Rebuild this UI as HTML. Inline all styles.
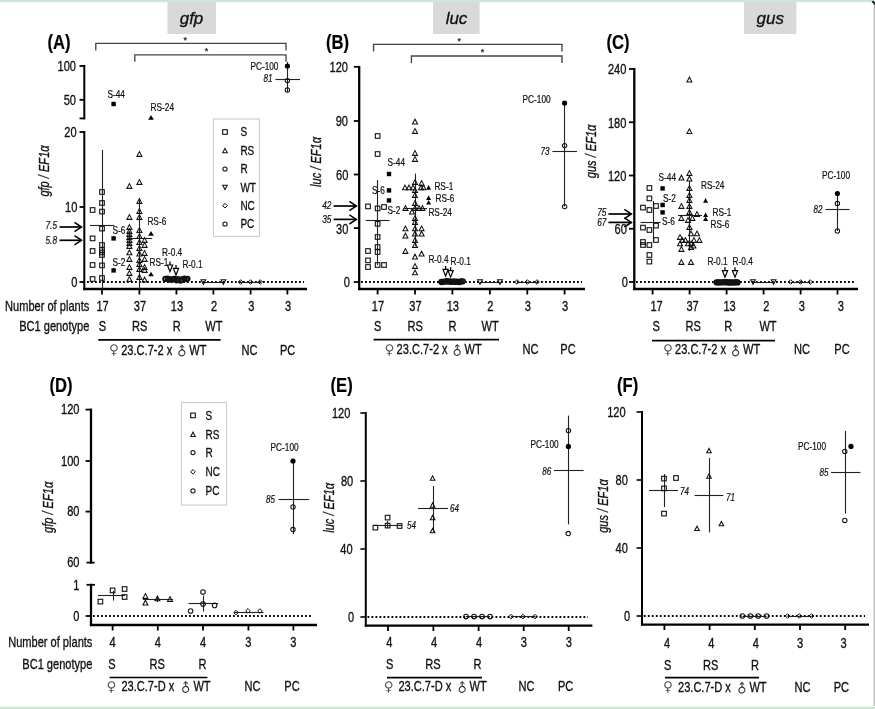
<!DOCTYPE html>
<html lang="en">
<head>
<meta charset="utf-8">
<title>Figure: gfp, luc and gus expression in BC1 plants</title>
<style>
html,body{margin:0;padding:0;background:#fff;}
body{width:875px;height:709px;overflow:hidden;}
svg{display:block;font-family:"Liberation Sans", "DejaVu Sans", sans-serif;}
</style>
</head>
<body>
<svg width="875" height="709" viewBox="0 0 875 709">
<rect x="0" y="0" width="875" height="709" fill="#fff"/>
<rect x="0" y="0" width="875" height="1.9" fill="#cbe5d2"/>
<rect x="0" y="1.9" width="875" height="1.2" fill="#f3f9f3"/>
<rect x="0" y="706.6" width="875" height="2.4" fill="#cbe5d2"/>
<rect x="0" y="704.8" width="875" height="1.8" fill="#f8fbf5"/>
<rect x="873.7" y="5" width="1.1" height="701" fill="#aaaaaa"/>
<polygon points="871.6,1.4 874.6,5.4 875,2.6 873.2,0.8" fill="#111"/>
<rect x="167.5" y="2" width="48.5" height="32" fill="#d9d9d9"/>
<text transform="translate(191.50,24.00)" font-size="17" text-anchor="middle" fill="#111" stroke="#111" stroke-width="0.32" font-style="italic">gfp</text>
<rect x="433" y="2" width="46.6" height="32" fill="#d9d9d9"/>
<text transform="translate(456.50,24.00)" font-size="17" text-anchor="middle" fill="#111" stroke="#111" stroke-width="0.32" font-style="italic">luc</text>
<rect x="744" y="2" width="52.4" height="32" fill="#d9d9d9"/>
<text transform="translate(770.30,24.00)" font-size="17" text-anchor="middle" fill="#111" stroke="#111" stroke-width="0.32" font-style="italic">gus</text>
<text transform="translate(47.50,49.00) scale(0.83,1)" font-size="20" text-anchor="start" fill="#000" stroke="#000" stroke-width="0.2" font-weight="bold">(A)</text>
<polyline points="95.80,50.40 95.80,43.40 286.00,43.40 286.00,50.40" fill="none" stroke="#444" stroke-width="1.35"/>
<polyline points="134.80,61.80 134.80,54.80 286.00,54.80 286.00,61.80" fill="none" stroke="#444" stroke-width="1.35"/>
<text transform="translate(185.30,42.50)" font-size="9" text-anchor="middle" fill="#222" stroke="#222" stroke-width="0.22">*</text>
<text transform="translate(206.50,54.00)" font-size="9" text-anchor="middle" fill="#222" stroke="#222" stroke-width="0.22">*</text>
<line x1="84.30" y1="65.00" x2="84.30" y2="119.40" stroke="#000" stroke-width="2.0"/>
<line x1="84.30" y1="131.00" x2="84.30" y2="290.10" stroke="#000" stroke-width="2.0"/>
<line x1="79.50" y1="66.00" x2="84.30" y2="66.00" stroke="#000" stroke-width="1.8"/>
<line x1="79.50" y1="99.80" x2="84.30" y2="99.80" stroke="#000" stroke-width="1.8"/>
<line x1="79.50" y1="118.40" x2="84.30" y2="118.40" stroke="#000" stroke-width="1.8"/>
<line x1="79.50" y1="132.00" x2="84.30" y2="132.00" stroke="#000" stroke-width="1.8"/>
<line x1="79.50" y1="207.00" x2="84.30" y2="207.00" stroke="#000" stroke-width="1.8"/>
<line x1="79.50" y1="282.00" x2="84.30" y2="282.00" stroke="#000" stroke-width="1.8"/>
<line x1="83.20" y1="289.00" x2="307.00" y2="289.00" stroke="#000" stroke-width="2.3"/>
<line x1="102.00" y1="289.00" x2="102.00" y2="294.50" stroke="#000" stroke-width="1.8"/>
<line x1="139.40" y1="289.00" x2="139.40" y2="294.50" stroke="#000" stroke-width="1.8"/>
<line x1="176.40" y1="289.00" x2="176.40" y2="294.50" stroke="#000" stroke-width="1.8"/>
<line x1="213.40" y1="289.00" x2="213.40" y2="294.50" stroke="#000" stroke-width="1.8"/>
<line x1="250.60" y1="289.00" x2="250.60" y2="294.50" stroke="#000" stroke-width="1.8"/>
<line x1="287.40" y1="289.00" x2="287.40" y2="294.50" stroke="#000" stroke-width="1.8"/>
<line x1="87.00" y1="282.00" x2="304.00" y2="282.00" stroke="#000" stroke-width="1.8" stroke-dasharray="1.8 2.2"/>
<text transform="translate(76.00,71.40) scale(0.78,1)" font-size="14.2" text-anchor="end" fill="#111" stroke="#111" stroke-width="0.32">100</text>
<text transform="translate(76.00,105.20) scale(0.78,1)" font-size="14.2" text-anchor="end" fill="#111" stroke="#111" stroke-width="0.32">50</text>
<text transform="translate(76.60,137.40) scale(0.78,1)" font-size="14.2" text-anchor="end" fill="#111" stroke="#111" stroke-width="0.32">20</text>
<text transform="translate(77.40,212.40) scale(0.78,1)" font-size="14.2" text-anchor="end" fill="#111" stroke="#111" stroke-width="0.32">10</text>
<text transform="translate(77.40,287.40) scale(0.78,1)" font-size="14.2" text-anchor="end" fill="#111" stroke="#111" stroke-width="0.32">0</text>
<text transform="translate(48.70,171.00) rotate(-90) scale(0.78,1)" font-size="14.2" text-anchor="middle" fill="#111" stroke="#111" stroke-width="0.32" font-style="italic">gfp / EF1α</text>
<text transform="translate(45.50,229.00) scale(0.78,1)" font-size="10.6" text-anchor="start" fill="#111" stroke="#111" stroke-width="0.22" font-style="italic">7.5</text>
<line x1="59.50" y1="227.00" x2="81.50" y2="227.00" stroke="#000" stroke-width="1.7"/>
<polyline points="74.50,222.40 81.50,227.00 74.50,231.60" fill="none" stroke="#000" stroke-width="1.5"/>
<text transform="translate(45.50,243.50) scale(0.78,1)" font-size="10.6" text-anchor="start" fill="#111" stroke="#111" stroke-width="0.22" font-style="italic">5.8</text>
<line x1="59.50" y1="240.30" x2="81.50" y2="240.30" stroke="#000" stroke-width="1.7"/>
<polyline points="74.50,235.70 81.50,240.30 74.50,244.90" fill="none" stroke="#000" stroke-width="1.5"/>
<line x1="102.50" y1="150.00" x2="102.50" y2="289.00" stroke="#222" stroke-width="1.1"/>
<line x1="90.00" y1="225.50" x2="114.40" y2="225.50" stroke="#222" stroke-width="1.1"/>
<rect x="90.30" y="207.70" width="4.6" height="4.6" fill="none" stroke="#111" stroke-width="1.1"/>
<rect x="90.30" y="236.10" width="4.6" height="4.6" fill="none" stroke="#111" stroke-width="1.1"/>
<rect x="90.30" y="248.70" width="4.6" height="4.6" fill="none" stroke="#111" stroke-width="1.1"/>
<rect x="90.30" y="262.70" width="4.6" height="4.6" fill="none" stroke="#111" stroke-width="1.1"/>
<rect x="90.30" y="276.70" width="4.6" height="4.6" fill="none" stroke="#111" stroke-width="1.1"/>
<rect x="99.70" y="189.70" width="4.6" height="4.6" fill="none" stroke="#111" stroke-width="1.1"/>
<rect x="99.70" y="200.70" width="4.6" height="4.6" fill="none" stroke="#111" stroke-width="1.1"/>
<rect x="99.70" y="209.30" width="4.6" height="4.6" fill="none" stroke="#111" stroke-width="1.1"/>
<rect x="99.70" y="226.30" width="4.6" height="4.6" fill="none" stroke="#111" stroke-width="1.1"/>
<rect x="99.70" y="242.70" width="4.6" height="4.6" fill="none" stroke="#111" stroke-width="1.1"/>
<rect x="99.70" y="247.70" width="4.6" height="4.6" fill="none" stroke="#111" stroke-width="1.1"/>
<rect x="99.70" y="250.10" width="4.6" height="4.6" fill="none" stroke="#111" stroke-width="1.1"/>
<rect x="99.70" y="252.70" width="4.6" height="4.6" fill="none" stroke="#111" stroke-width="1.1"/>
<rect x="99.70" y="263.10" width="4.6" height="4.6" fill="none" stroke="#111" stroke-width="1.1"/>
<rect x="99.70" y="275.70" width="4.6" height="4.6" fill="none" stroke="#111" stroke-width="1.1"/>
<rect x="111.40" y="101.80" width="4.4" height="4.4" fill="#000"/>
<rect x="111.40" y="236.20" width="4.4" height="4.4" fill="#000"/>
<rect x="111.40" y="268.20" width="4.4" height="4.4" fill="#000"/>
<text transform="translate(107.50,98.00) scale(0.78,1)" font-size="10.6" text-anchor="start" fill="#111" stroke="#111" stroke-width="0.22">S-44</text>
<text transform="translate(112.40,233.50) scale(0.78,1)" font-size="10.6" text-anchor="start" fill="#111" stroke="#111" stroke-width="0.22">S-6</text>
<text transform="translate(112.40,266.10) scale(0.78,1)" font-size="10.6" text-anchor="start" fill="#111" stroke="#111" stroke-width="0.22">S-2</text>
<line x1="139.50" y1="198.00" x2="139.50" y2="289.00" stroke="#222" stroke-width="1.1"/>
<line x1="127.00" y1="238.50" x2="152.00" y2="238.50" stroke="#222" stroke-width="1.1"/>
<polygon points="126.90,188.38 131.90,188.38 129.40,183.62" fill="none" stroke="#111" stroke-width="1.05"/>
<polygon points="126.90,219.38 131.90,219.38 129.40,214.62" fill="none" stroke="#111" stroke-width="1.05"/>
<polygon points="126.90,229.38 131.90,229.38 129.40,224.62" fill="none" stroke="#111" stroke-width="1.05"/>
<polygon points="126.90,233.38 131.90,233.38 129.40,228.62" fill="none" stroke="#111" stroke-width="1.05"/>
<polygon points="126.90,236.38 131.90,236.38 129.40,231.62" fill="none" stroke="#111" stroke-width="1.05"/>
<polygon points="126.90,239.38 131.90,239.38 129.40,234.62" fill="none" stroke="#111" stroke-width="1.05"/>
<polygon points="126.90,242.38 131.90,242.38 129.40,237.62" fill="none" stroke="#111" stroke-width="1.05"/>
<polygon points="126.90,245.38 131.90,245.38 129.40,240.62" fill="none" stroke="#111" stroke-width="1.05"/>
<polygon points="126.90,248.38 131.90,248.38 129.40,243.62" fill="none" stroke="#111" stroke-width="1.05"/>
<polygon points="126.90,254.78 131.90,254.78 129.40,250.03" fill="none" stroke="#111" stroke-width="1.05"/>
<polygon points="126.90,261.38 131.90,261.38 129.40,256.62" fill="none" stroke="#111" stroke-width="1.05"/>
<polygon points="126.90,269.38 131.90,269.38 129.40,264.62" fill="none" stroke="#111" stroke-width="1.05"/>
<polygon points="126.90,275.38 131.90,275.38 129.40,270.62" fill="none" stroke="#111" stroke-width="1.05"/>
<polygon points="126.90,281.38 131.90,281.38 129.40,276.62" fill="none" stroke="#111" stroke-width="1.05"/>
<polygon points="136.90,156.38 141.90,156.38 139.40,151.62" fill="none" stroke="#111" stroke-width="1.05"/>
<polygon points="136.90,184.38 141.90,184.38 139.40,179.62" fill="none" stroke="#111" stroke-width="1.05"/>
<polygon points="136.90,203.38 141.90,203.38 139.40,198.62" fill="none" stroke="#111" stroke-width="1.05"/>
<polygon points="136.90,213.38 141.90,213.38 139.40,208.62" fill="none" stroke="#111" stroke-width="1.05"/>
<polygon points="136.90,219.38 141.90,219.38 139.40,214.62" fill="none" stroke="#111" stroke-width="1.05"/>
<polygon points="136.90,232.38 141.90,232.38 139.40,227.62" fill="none" stroke="#111" stroke-width="1.05"/>
<polygon points="136.90,238.38 141.90,238.38 139.40,233.62" fill="none" stroke="#111" stroke-width="1.05"/>
<polygon points="136.90,244.38 141.90,244.38 139.40,239.62" fill="none" stroke="#111" stroke-width="1.05"/>
<polygon points="136.90,250.38 141.90,250.38 139.40,245.62" fill="none" stroke="#111" stroke-width="1.05"/>
<polygon points="136.90,255.97 141.90,255.97 139.40,251.22" fill="none" stroke="#111" stroke-width="1.05"/>
<polygon points="136.90,262.38 141.90,262.38 139.40,257.62" fill="none" stroke="#111" stroke-width="1.05"/>
<polygon points="136.90,266.38 141.90,266.38 139.40,261.62" fill="none" stroke="#111" stroke-width="1.05"/>
<polygon points="136.90,271.38 141.90,271.38 139.40,266.62" fill="none" stroke="#111" stroke-width="1.05"/>
<polygon points="136.90,279.38 141.90,279.38 139.40,274.62" fill="none" stroke="#111" stroke-width="1.05"/>
<polygon points="142.10,242.38 147.10,242.38 144.60,237.62" fill="none" stroke="#111" stroke-width="1.05"/>
<polygon points="142.10,247.38 147.10,247.38 144.60,242.62" fill="none" stroke="#111" stroke-width="1.05"/>
<polygon points="142.10,255.38 147.10,255.38 144.60,250.62" fill="none" stroke="#111" stroke-width="1.05"/>
<polygon points="142.10,261.38 147.10,261.38 144.60,256.62" fill="none" stroke="#111" stroke-width="1.05"/>
<polygon points="142.10,269.38 147.10,269.38 144.60,264.62" fill="none" stroke="#111" stroke-width="1.05"/>
<polygon points="142.10,272.38 147.10,272.38 144.60,267.62" fill="none" stroke="#111" stroke-width="1.05"/>
<polygon points="142.10,281.98 147.10,281.98 144.60,277.23" fill="none" stroke="#111" stroke-width="1.05"/>
<polygon points="148.20,119.70 153.80,119.70 151.00,115.10" fill="#000"/>
<polygon points="148.20,235.70 153.80,235.70 151.00,231.10" fill="#000"/>
<polygon points="148.20,276.30 153.80,276.30 151.00,271.70" fill="#000"/>
<text transform="translate(150.60,110.90) scale(0.78,1)" font-size="10.6" text-anchor="start" fill="#111" stroke="#111" stroke-width="0.22">RS-24</text>
<text transform="translate(147.40,224.90) scale(0.78,1)" font-size="10.6" text-anchor="start" fill="#111" stroke="#111" stroke-width="0.22">RS-6</text>
<text transform="translate(149.60,266.10) scale(0.78,1)" font-size="10.6" text-anchor="start" fill="#111" stroke="#111" stroke-width="0.22">RS-1</text>
<circle cx="165.36" cy="278.90" r="2.3" fill="none" stroke="#111" stroke-width="1.7"/>
<circle cx="167.47" cy="278.74" r="2.3" fill="none" stroke="#111" stroke-width="1.7"/>
<circle cx="169.23" cy="279.33" r="2.3" fill="none" stroke="#111" stroke-width="1.7"/>
<circle cx="170.70" cy="279.61" r="2.3" fill="none" stroke="#111" stroke-width="1.7"/>
<circle cx="172.53" cy="279.47" r="2.3" fill="none" stroke="#111" stroke-width="1.7"/>
<circle cx="174.41" cy="278.78" r="2.3" fill="none" stroke="#111" stroke-width="1.7"/>
<circle cx="176.54" cy="280.25" r="2.3" fill="none" stroke="#111" stroke-width="1.7"/>
<circle cx="178.15" cy="279.05" r="2.3" fill="none" stroke="#111" stroke-width="1.7"/>
<circle cx="180.40" cy="280.50" r="2.3" fill="none" stroke="#111" stroke-width="1.7"/>
<circle cx="182.21" cy="279.39" r="2.3" fill="none" stroke="#111" stroke-width="1.7"/>
<circle cx="184.38" cy="278.69" r="2.3" fill="none" stroke="#111" stroke-width="1.7"/>
<circle cx="186.14" cy="279.18" r="2.3" fill="none" stroke="#111" stroke-width="1.7"/>
<circle cx="187.42" cy="278.84" r="2.3" fill="none" stroke="#111" stroke-width="1.7"/>
<line x1="170.00" y1="261.60" x2="170.00" y2="265.20" stroke="#000" stroke-width="1.3"/>
<polygon points="167.40,265.00 172.60,265.00 170.00,271.60" fill="#fff" stroke="#000" stroke-width="1.2"/>
<line x1="176.00" y1="265.00" x2="176.00" y2="268.60" stroke="#000" stroke-width="1.3"/>
<polygon points="173.40,268.40 178.60,268.40 176.00,275.00" fill="#fff" stroke="#000" stroke-width="1.2"/>
<text transform="translate(162.00,256.10) scale(0.78,1)" font-size="10.6" text-anchor="start" fill="#111" stroke="#111" stroke-width="0.22">R-0.4</text>
<text transform="translate(182.40,267.50) scale(0.78,1)" font-size="10.6" text-anchor="start" fill="#111" stroke="#111" stroke-width="0.22">R-0.1</text>
<line x1="203.40" y1="282.50" x2="223.40" y2="282.50" stroke="#222" stroke-width="1.1"/>
<polygon points="201.00,279.72 205.80,279.72 203.40,284.28" fill="none" stroke="#111" stroke-width="1.05"/>
<polygon points="221.00,279.72 225.80,279.72 223.40,284.28" fill="none" stroke="#111" stroke-width="1.05"/>
<line x1="240.60" y1="282.50" x2="260.40" y2="282.50" stroke="#222" stroke-width="1.1"/>
<polygon points="238.30,282.00 240.60,279.70 242.90,282.00 240.60,284.30" fill="none" stroke="#111" stroke-width="1.0"/>
<polygon points="248.30,282.00 250.60,279.70 252.90,282.00 250.60,284.30" fill="none" stroke="#111" stroke-width="1.0"/>
<polygon points="257.90,282.00 260.20,279.70 262.50,282.00 260.20,284.30" fill="none" stroke="#111" stroke-width="1.0"/>
<line x1="287.50" y1="62.00" x2="287.50" y2="92.00" stroke="#222" stroke-width="1.1"/>
<line x1="275.50" y1="79.50" x2="300.00" y2="79.50" stroke="#222" stroke-width="1.1"/>
<circle cx="287.40" cy="66.00" r="2.6" fill="#000"/>
<circle cx="287.40" cy="80.60" r="2.2" fill="none" stroke="#111" stroke-width="1.05"/>
<circle cx="287.40" cy="90.00" r="2.2" fill="none" stroke="#111" stroke-width="1.05"/>
<text transform="translate(250.40,70.10) scale(0.78,1)" font-size="10.6" text-anchor="start" fill="#111" stroke="#111" stroke-width="0.22">PC-100</text>
<text transform="translate(263.50,82.30) scale(0.76,1)" font-size="10.6" text-anchor="start" fill="#111" stroke="#111" stroke-width="0.22" font-style="italic">81</text>
<rect x="213.4" y="119" width="46" height="117.4" fill="#fff" stroke="#c8c8c8" stroke-width="1"/>
<rect x="222.70" y="129.70" width="4.6" height="4.6" fill="none" stroke="#111" stroke-width="1.1"/>
<polygon points="222.70,152.69 227.30,152.69 225.00,148.31" fill="none" stroke="#111" stroke-width="1.05"/>
<circle cx="225.00" cy="169.00" r="2.1" fill="none" stroke="#111" stroke-width="1.05"/>
<polygon points="222.70,185.22 227.30,185.22 225.00,189.59" fill="none" stroke="#111" stroke-width="1.05"/>
<polygon points="222.70,205.70 225.00,203.40 227.30,205.70 225.00,208.00" fill="none" stroke="#111" stroke-width="1.0"/>
<circle cx="225.00" cy="224.00" r="2.1" fill="none" stroke="#111" stroke-width="1.05"/>
<text transform="translate(240.40,136.40) scale(0.78,1)" font-size="12.8" text-anchor="start" fill="#111" stroke="#111" stroke-width="0.32">S</text>
<text transform="translate(240.40,154.90) scale(0.78,1)" font-size="12.8" text-anchor="start" fill="#111" stroke="#111" stroke-width="0.32">RS</text>
<text transform="translate(240.40,173.40) scale(0.78,1)" font-size="12.8" text-anchor="start" fill="#111" stroke="#111" stroke-width="0.32">R</text>
<text transform="translate(240.40,191.80) scale(0.78,1)" font-size="12.8" text-anchor="start" fill="#111" stroke="#111" stroke-width="0.32">WT</text>
<text transform="translate(240.40,210.10) scale(0.78,1)" font-size="12.8" text-anchor="start" fill="#111" stroke="#111" stroke-width="0.32">NC</text>
<text transform="translate(240.40,228.40) scale(0.78,1)" font-size="12.8" text-anchor="start" fill="#111" stroke="#111" stroke-width="0.32">PC</text>
<text transform="translate(89.30,311.00) scale(0.78,1)" font-size="14.2" text-anchor="end" fill="#111" stroke="#111" stroke-width="0.32">Number of plants</text>
<text transform="translate(89.30,331.00) scale(0.78,1)" font-size="14.2" text-anchor="end" fill="#111" stroke="#111" stroke-width="0.32">BC1 genotype</text>
<text transform="translate(102.60,311.00) scale(0.78,1)" font-size="14.2" text-anchor="middle" fill="#111" stroke="#111" stroke-width="0.32">17</text>
<text transform="translate(140.00,311.00) scale(0.78,1)" font-size="14.2" text-anchor="middle" fill="#111" stroke="#111" stroke-width="0.32">37</text>
<text transform="translate(177.00,311.00) scale(0.78,1)" font-size="14.2" text-anchor="middle" fill="#111" stroke="#111" stroke-width="0.32">13</text>
<text transform="translate(214.00,311.00) scale(0.78,1)" font-size="14.2" text-anchor="middle" fill="#111" stroke="#111" stroke-width="0.32">2</text>
<text transform="translate(251.20,311.00) scale(0.78,1)" font-size="14.2" text-anchor="middle" fill="#111" stroke="#111" stroke-width="0.32">3</text>
<text transform="translate(288.00,311.00) scale(0.78,1)" font-size="14.2" text-anchor="middle" fill="#111" stroke="#111" stroke-width="0.32">3</text>
<text transform="translate(102.40,331.00) scale(0.78,1)" font-size="14.2" text-anchor="middle" fill="#111" stroke="#111" stroke-width="0.32">S</text>
<text transform="translate(139.80,331.00) scale(0.78,1)" font-size="14.2" text-anchor="middle" fill="#111" stroke="#111" stroke-width="0.32">RS</text>
<text transform="translate(176.80,331.00) scale(0.78,1)" font-size="14.2" text-anchor="middle" fill="#111" stroke="#111" stroke-width="0.32">R</text>
<text transform="translate(213.80,331.00) scale(0.78,1)" font-size="14.2" text-anchor="middle" fill="#111" stroke="#111" stroke-width="0.32">WT</text>
<line x1="98.30" y1="339.80" x2="220.60" y2="339.80" stroke="#000" stroke-width="1.7"/>
<text x="114.00" y="354.30" font-size="13.5" font-family="'DejaVu Sans', sans-serif" text-anchor="middle" fill="#555">♀</text>
<text transform="translate(121.20,354.50) scale(0.78,1)" font-size="14.2" text-anchor="start" fill="#111" stroke="#111" stroke-width="0.32">23.C.7-2 x</text>
<text transform="translate(185.00,354.56) rotate(-45)" font-size="12.8" font-family="'DejaVu Sans', sans-serif" text-anchor="middle" fill="#333">♂</text>
<text transform="translate(189.20,354.50) scale(0.78,1)" font-size="14.2" text-anchor="start" fill="#111" stroke="#111" stroke-width="0.32">WT</text>
<text transform="translate(249.60,354.50) scale(0.78,1)" font-size="14.2" text-anchor="middle" fill="#111" stroke="#111" stroke-width="0.32">NC</text>
<text transform="translate(287.60,354.50) scale(0.78,1)" font-size="14.2" text-anchor="middle" fill="#111" stroke="#111" stroke-width="0.32">PC</text>
<text transform="translate(326.00,49.00) scale(0.83,1)" font-size="20" text-anchor="start" fill="#000" stroke="#000" stroke-width="0.2" font-weight="bold">(B)</text>
<polyline points="373.60,51.40 373.60,44.40 562.00,44.40 562.00,51.40" fill="none" stroke="#444" stroke-width="1.35"/>
<polyline points="411.40,63.00 411.40,56.00 562.00,56.00 562.00,63.00" fill="none" stroke="#444" stroke-width="1.35"/>
<text transform="translate(459.20,43.50)" font-size="9" text-anchor="middle" fill="#222" stroke="#222" stroke-width="0.22">*</text>
<text transform="translate(482.40,55.00)" font-size="9" text-anchor="middle" fill="#222" stroke="#222" stroke-width="0.22">*</text>
<line x1="359.20" y1="66.10" x2="359.20" y2="290.10" stroke="#000" stroke-width="2.3"/>
<line x1="353.80" y1="66.80" x2="359.20" y2="66.80" stroke="#000" stroke-width="1.8"/>
<line x1="353.80" y1="121.00" x2="359.20" y2="121.00" stroke="#000" stroke-width="1.8"/>
<line x1="353.80" y1="174.50" x2="359.20" y2="174.50" stroke="#000" stroke-width="1.8"/>
<line x1="353.80" y1="228.10" x2="359.20" y2="228.10" stroke="#000" stroke-width="1.8"/>
<line x1="353.80" y1="282.00" x2="359.20" y2="282.00" stroke="#000" stroke-width="1.8"/>
<line x1="358.10" y1="289.00" x2="585.00" y2="289.00" stroke="#000" stroke-width="2.3"/>
<line x1="377.60" y1="289.00" x2="377.60" y2="294.50" stroke="#000" stroke-width="1.8"/>
<line x1="415.00" y1="289.00" x2="415.00" y2="294.50" stroke="#000" stroke-width="1.8"/>
<line x1="452.40" y1="289.00" x2="452.40" y2="294.50" stroke="#000" stroke-width="1.8"/>
<line x1="489.90" y1="289.00" x2="489.90" y2="294.50" stroke="#000" stroke-width="1.8"/>
<line x1="527.30" y1="289.00" x2="527.30" y2="294.50" stroke="#000" stroke-width="1.8"/>
<line x1="564.60" y1="289.00" x2="564.60" y2="294.50" stroke="#000" stroke-width="1.8"/>
<line x1="361.00" y1="282.00" x2="582.00" y2="282.00" stroke="#000" stroke-width="1.8" stroke-dasharray="1.8 2.2"/>
<text transform="translate(348.00,72.40) scale(0.78,1)" font-size="14.2" text-anchor="end" fill="#111" stroke="#111" stroke-width="0.32">120</text>
<text transform="translate(348.00,126.15) scale(0.78,1)" font-size="14.2" text-anchor="end" fill="#111" stroke="#111" stroke-width="0.32">90</text>
<text transform="translate(348.40,179.90) scale(0.78,1)" font-size="14.2" text-anchor="end" fill="#111" stroke="#111" stroke-width="0.32">60</text>
<text transform="translate(348.40,233.65) scale(0.78,1)" font-size="14.2" text-anchor="end" fill="#111" stroke="#111" stroke-width="0.32">30</text>
<text transform="translate(350.00,287.40) scale(0.78,1)" font-size="14.2" text-anchor="end" fill="#111" stroke="#111" stroke-width="0.32">0</text>
<text transform="translate(321.20,162.00) rotate(-90) scale(0.78,1)" font-size="14.2" text-anchor="middle" fill="#111" stroke="#111" stroke-width="0.32" font-style="italic">luc / EF1α</text>
<text transform="translate(322.20,209.30) scale(0.78,1)" font-size="10.6" text-anchor="start" fill="#111" stroke="#111" stroke-width="0.22" font-style="italic">42</text>
<line x1="333.60" y1="206.00" x2="356.40" y2="206.00" stroke="#000" stroke-width="1.7"/>
<polyline points="349.40,201.40 356.40,206.00 349.40,210.60" fill="none" stroke="#000" stroke-width="1.5"/>
<text transform="translate(322.20,222.80) scale(0.78,1)" font-size="10.6" text-anchor="start" fill="#111" stroke="#111" stroke-width="0.22" font-style="italic">35</text>
<line x1="333.60" y1="219.40" x2="356.40" y2="219.40" stroke="#000" stroke-width="1.7"/>
<polyline points="349.40,214.80 356.40,219.40 349.40,224.00" fill="none" stroke="#000" stroke-width="1.5"/>
<line x1="377.50" y1="180.00" x2="377.50" y2="265.00" stroke="#222" stroke-width="1.1"/>
<line x1="365.60" y1="220.50" x2="389.60" y2="220.50" stroke="#222" stroke-width="1.1"/>
<rect x="375.30" y="133.70" width="4.6" height="4.6" fill="none" stroke="#111" stroke-width="1.1"/>
<rect x="375.30" y="151.70" width="4.6" height="4.6" fill="none" stroke="#111" stroke-width="1.1"/>
<rect x="375.30" y="206.10" width="4.6" height="4.6" fill="none" stroke="#111" stroke-width="1.1"/>
<rect x="375.30" y="221.50" width="4.6" height="4.6" fill="none" stroke="#111" stroke-width="1.1"/>
<rect x="375.30" y="234.70" width="4.6" height="4.6" fill="none" stroke="#111" stroke-width="1.1"/>
<rect x="375.30" y="244.70" width="4.6" height="4.6" fill="none" stroke="#111" stroke-width="1.1"/>
<rect x="375.30" y="249.70" width="4.6" height="4.6" fill="none" stroke="#111" stroke-width="1.1"/>
<rect x="375.30" y="262.70" width="4.6" height="4.6" fill="none" stroke="#111" stroke-width="1.1"/>
<rect x="365.70" y="204.10" width="4.6" height="4.6" fill="none" stroke="#111" stroke-width="1.1"/>
<rect x="365.70" y="248.70" width="4.6" height="4.6" fill="none" stroke="#111" stroke-width="1.1"/>
<rect x="365.70" y="258.10" width="4.6" height="4.6" fill="none" stroke="#111" stroke-width="1.1"/>
<rect x="365.70" y="264.70" width="4.6" height="4.6" fill="none" stroke="#111" stroke-width="1.1"/>
<rect x="381.70" y="204.70" width="4.6" height="4.6" fill="none" stroke="#111" stroke-width="1.1"/>
<rect x="381.70" y="262.70" width="4.6" height="4.6" fill="none" stroke="#111" stroke-width="1.1"/>
<rect x="386.80" y="171.80" width="4.4" height="4.4" fill="#000"/>
<rect x="386.80" y="188.20" width="4.4" height="4.4" fill="#000"/>
<rect x="386.80" y="198.20" width="4.4" height="4.4" fill="#000"/>
<text transform="translate(387.60,166.10) scale(0.78,1)" font-size="10.6" text-anchor="start" fill="#111" stroke="#111" stroke-width="0.22">S-44</text>
<text transform="translate(372.00,193.50) scale(0.78,1)" font-size="10.6" text-anchor="start" fill="#111" stroke="#111" stroke-width="0.22">S-6</text>
<text transform="translate(387.60,213.50) scale(0.78,1)" font-size="10.6" text-anchor="start" fill="#111" stroke="#111" stroke-width="0.22">S-2</text>
<line x1="415.50" y1="173.60" x2="415.50" y2="246.00" stroke="#222" stroke-width="1.1"/>
<line x1="404.00" y1="208.50" x2="427.00" y2="208.50" stroke="#222" stroke-width="1.1"/>
<polygon points="412.50,123.97 417.50,123.97 415.00,119.22" fill="none" stroke="#111" stroke-width="1.05"/>
<polygon points="412.50,133.38 417.50,133.38 415.00,128.62" fill="none" stroke="#111" stroke-width="1.05"/>
<polygon points="412.50,155.38 417.50,155.38 415.00,150.62" fill="none" stroke="#111" stroke-width="1.05"/>
<polygon points="412.50,161.38 417.50,161.38 415.00,156.62" fill="none" stroke="#111" stroke-width="1.05"/>
<polygon points="412.50,184.38 417.50,184.38 415.00,179.62" fill="none" stroke="#111" stroke-width="1.05"/>
<polygon points="412.50,192.38 417.50,192.38 415.00,187.62" fill="none" stroke="#111" stroke-width="1.05"/>
<polygon points="412.50,197.38 417.50,197.38 415.00,192.62" fill="none" stroke="#111" stroke-width="1.05"/>
<polygon points="412.50,205.38 417.50,205.38 415.00,200.62" fill="none" stroke="#111" stroke-width="1.05"/>
<polygon points="412.50,210.38 417.50,210.38 415.00,205.62" fill="none" stroke="#111" stroke-width="1.05"/>
<polygon points="412.50,220.38 417.50,220.38 415.00,215.62" fill="none" stroke="#111" stroke-width="1.05"/>
<polygon points="412.50,224.38 417.50,224.38 415.00,219.62" fill="none" stroke="#111" stroke-width="1.05"/>
<polygon points="412.50,230.78 417.50,230.78 415.00,226.03" fill="none" stroke="#111" stroke-width="1.05"/>
<polygon points="412.50,235.97 417.50,235.97 415.00,231.22" fill="none" stroke="#111" stroke-width="1.05"/>
<polygon points="412.50,242.38 417.50,242.38 415.00,237.62" fill="none" stroke="#111" stroke-width="1.05"/>
<polygon points="412.50,247.38 417.50,247.38 415.00,242.62" fill="none" stroke="#111" stroke-width="1.05"/>
<polygon points="412.50,258.98 417.50,258.98 415.00,254.23" fill="none" stroke="#111" stroke-width="1.05"/>
<polygon points="412.50,268.38 417.50,268.38 415.00,263.62" fill="none" stroke="#111" stroke-width="1.05"/>
<polygon points="412.50,274.77 417.50,274.77 415.00,270.02" fill="none" stroke="#111" stroke-width="1.05"/>
<polygon points="419.10,185.38 424.10,185.38 421.60,180.62" fill="none" stroke="#111" stroke-width="1.05"/>
<polygon points="402.50,189.78 407.50,189.78 405.00,185.03" fill="none" stroke="#111" stroke-width="1.05"/>
<polygon points="406.50,189.78 411.50,189.78 409.00,185.03" fill="none" stroke="#111" stroke-width="1.05"/>
<polygon points="410.50,189.78 415.50,189.78 413.00,185.03" fill="none" stroke="#111" stroke-width="1.05"/>
<polygon points="418.50,189.78 423.50,189.78 421.00,185.03" fill="none" stroke="#111" stroke-width="1.05"/>
<polygon points="420.90,189.78 425.90,189.78 423.40,185.03" fill="none" stroke="#111" stroke-width="1.05"/>
<polygon points="402.90,210.38 407.90,210.38 405.40,205.62" fill="none" stroke="#111" stroke-width="1.05"/>
<polygon points="416.50,210.38 421.50,210.38 419.00,205.62" fill="none" stroke="#111" stroke-width="1.05"/>
<polygon points="419.90,210.38 424.90,210.38 422.40,205.62" fill="none" stroke="#111" stroke-width="1.05"/>
<polygon points="409.50,213.97 414.50,213.97 412.00,209.22" fill="none" stroke="#111" stroke-width="1.05"/>
<polygon points="402.90,230.78 407.90,230.78 405.40,226.03" fill="none" stroke="#111" stroke-width="1.05"/>
<polygon points="419.10,230.78 424.10,230.78 421.60,226.03" fill="none" stroke="#111" stroke-width="1.05"/>
<polygon points="419.10,235.97 424.10,235.97 421.60,231.22" fill="none" stroke="#111" stroke-width="1.05"/>
<polygon points="402.90,237.97 407.90,237.97 405.40,233.22" fill="none" stroke="#111" stroke-width="1.05"/>
<polygon points="402.90,253.38 407.90,253.38 405.40,248.62" fill="none" stroke="#111" stroke-width="1.05"/>
<polygon points="419.10,255.97 424.10,255.97 421.60,251.22" fill="none" stroke="#111" stroke-width="1.05"/>
<polygon points="426.10,189.70 431.10,189.70 428.60,185.10" fill="#000"/>
<polygon points="426.10,199.90 431.10,199.90 428.60,195.30" fill="#000"/>
<polygon points="426.10,204.50 431.10,204.50 428.60,199.90" fill="#000"/>
<text transform="translate(434.40,190.10) scale(0.78,1)" font-size="10.6" text-anchor="start" fill="#111" stroke="#111" stroke-width="0.22">RS-1</text>
<text transform="translate(435.60,201.70) scale(0.78,1)" font-size="10.6" text-anchor="start" fill="#111" stroke="#111" stroke-width="0.22">RS-6</text>
<text transform="translate(428.40,215.70) scale(0.78,1)" font-size="10.6" text-anchor="start" fill="#111" stroke="#111" stroke-width="0.22">RS-24</text>
<circle cx="441.39" cy="282.02" r="2.3" fill="none" stroke="#111" stroke-width="1.7"/>
<circle cx="443.06" cy="281.78" r="2.3" fill="none" stroke="#111" stroke-width="1.7"/>
<circle cx="445.08" cy="281.57" r="2.3" fill="none" stroke="#111" stroke-width="1.7"/>
<circle cx="446.78" cy="281.26" r="2.3" fill="none" stroke="#111" stroke-width="1.7"/>
<circle cx="448.24" cy="281.41" r="2.3" fill="none" stroke="#111" stroke-width="1.7"/>
<circle cx="450.36" cy="281.63" r="2.3" fill="none" stroke="#111" stroke-width="1.7"/>
<circle cx="451.89" cy="281.79" r="2.3" fill="none" stroke="#111" stroke-width="1.7"/>
<circle cx="453.72" cy="281.50" r="2.3" fill="none" stroke="#111" stroke-width="1.7"/>
<circle cx="455.68" cy="281.90" r="2.3" fill="none" stroke="#111" stroke-width="1.7"/>
<circle cx="457.10" cy="281.77" r="2.3" fill="none" stroke="#111" stroke-width="1.7"/>
<circle cx="459.02" cy="282.08" r="2.3" fill="none" stroke="#111" stroke-width="1.7"/>
<circle cx="460.89" cy="281.49" r="2.3" fill="none" stroke="#111" stroke-width="1.7"/>
<circle cx="462.79" cy="281.32" r="2.3" fill="none" stroke="#111" stroke-width="1.7"/>
<line x1="445.60" y1="266.00" x2="445.60" y2="269.60" stroke="#000" stroke-width="1.3"/>
<polygon points="443.00,269.40 448.20,269.40 445.60,276.00" fill="#fff" stroke="#000" stroke-width="1.2"/>
<line x1="450.60" y1="267.20" x2="450.60" y2="270.80" stroke="#000" stroke-width="1.3"/>
<polygon points="448.00,270.60 453.20,270.60 450.60,277.20" fill="#fff" stroke="#000" stroke-width="1.2"/>
<text transform="translate(428.40,262.90) scale(0.78,1)" font-size="10.6" text-anchor="start" fill="#111" stroke="#111" stroke-width="0.22">R-0.4</text>
<text transform="translate(450.60,264.50) scale(0.78,1)" font-size="10.6" text-anchor="start" fill="#111" stroke="#111" stroke-width="0.22">R-0.1</text>
<line x1="480.00" y1="282.50" x2="500.00" y2="282.50" stroke="#222" stroke-width="1.1"/>
<polygon points="477.60,279.72 482.40,279.72 480.00,284.28" fill="none" stroke="#111" stroke-width="1.05"/>
<polygon points="497.60,279.72 502.40,279.72 500.00,284.28" fill="none" stroke="#111" stroke-width="1.05"/>
<line x1="517.00" y1="282.50" x2="537.00" y2="282.50" stroke="#222" stroke-width="1.1"/>
<polygon points="514.70,282.00 517.00,279.70 519.30,282.00 517.00,284.30" fill="none" stroke="#111" stroke-width="1.0"/>
<polygon points="525.10,282.00 527.40,279.70 529.70,282.00 527.40,284.30" fill="none" stroke="#111" stroke-width="1.0"/>
<polygon points="534.70,282.00 537.00,279.70 539.30,282.00 537.00,284.30" fill="none" stroke="#111" stroke-width="1.0"/>
<line x1="564.50" y1="103.00" x2="564.50" y2="206.60" stroke="#222" stroke-width="1.1"/>
<line x1="552.40" y1="151.50" x2="577.00" y2="151.50" stroke="#222" stroke-width="1.1"/>
<circle cx="564.60" cy="103.00" r="2.6" fill="#000"/>
<circle cx="564.60" cy="145.60" r="2.2" fill="none" stroke="#111" stroke-width="1.05"/>
<circle cx="564.60" cy="206.60" r="2.2" fill="none" stroke="#111" stroke-width="1.05"/>
<text transform="translate(522.60,102.50) scale(0.78,1)" font-size="10.6" text-anchor="start" fill="#111" stroke="#111" stroke-width="0.22">PC-100</text>
<text transform="translate(540.40,155.20) scale(0.76,1)" font-size="10.6" text-anchor="start" fill="#111" stroke="#111" stroke-width="0.22" font-style="italic">73</text>
<text transform="translate(378.00,311.00) scale(0.78,1)" font-size="14.2" text-anchor="middle" fill="#111" stroke="#111" stroke-width="0.32">17</text>
<text transform="translate(415.40,311.00) scale(0.78,1)" font-size="14.2" text-anchor="middle" fill="#111" stroke="#111" stroke-width="0.32">37</text>
<text transform="translate(452.80,311.00) scale(0.78,1)" font-size="14.2" text-anchor="middle" fill="#111" stroke="#111" stroke-width="0.32">13</text>
<text transform="translate(490.30,311.00) scale(0.78,1)" font-size="14.2" text-anchor="middle" fill="#111" stroke="#111" stroke-width="0.32">2</text>
<text transform="translate(527.70,311.00) scale(0.78,1)" font-size="14.2" text-anchor="middle" fill="#111" stroke="#111" stroke-width="0.32">3</text>
<text transform="translate(565.00,311.00) scale(0.78,1)" font-size="14.2" text-anchor="middle" fill="#111" stroke="#111" stroke-width="0.32">3</text>
<text transform="translate(377.80,331.00) scale(0.78,1)" font-size="14.2" text-anchor="middle" fill="#111" stroke="#111" stroke-width="0.32">S</text>
<text transform="translate(415.20,331.00) scale(0.78,1)" font-size="14.2" text-anchor="middle" fill="#111" stroke="#111" stroke-width="0.32">RS</text>
<text transform="translate(452.60,331.00) scale(0.78,1)" font-size="14.2" text-anchor="middle" fill="#111" stroke="#111" stroke-width="0.32">R</text>
<text transform="translate(490.10,331.00) scale(0.78,1)" font-size="14.2" text-anchor="middle" fill="#111" stroke="#111" stroke-width="0.32">WT</text>
<line x1="373.60" y1="339.60" x2="499.00" y2="339.60" stroke="#000" stroke-width="1.7"/>
<text x="389.50" y="353.60" font-size="13.5" font-family="'DejaVu Sans', sans-serif" text-anchor="middle" fill="#555">♀</text>
<text transform="translate(396.60,353.80) scale(0.78,1)" font-size="14.2" text-anchor="start" fill="#111" stroke="#111" stroke-width="0.32">23.C.7-2 x</text>
<text transform="translate(460.40,353.86) rotate(-45)" font-size="12.8" font-family="'DejaVu Sans', sans-serif" text-anchor="middle" fill="#333">♂</text>
<text transform="translate(464.60,353.80) scale(0.78,1)" font-size="14.2" text-anchor="start" fill="#111" stroke="#111" stroke-width="0.32">WT</text>
<text transform="translate(530.40,353.80) scale(0.78,1)" font-size="14.2" text-anchor="middle" fill="#111" stroke="#111" stroke-width="0.32">NC</text>
<text transform="translate(568.00,353.80) scale(0.78,1)" font-size="14.2" text-anchor="middle" fill="#111" stroke="#111" stroke-width="0.32">PC</text>
<text transform="translate(606.60,49.00) scale(0.83,1)" font-size="20" text-anchor="start" fill="#000" stroke="#000" stroke-width="0.2" font-weight="bold">(C)</text>
<line x1="634.30" y1="68.00" x2="634.30" y2="290.10" stroke="#000" stroke-width="2.3"/>
<line x1="629.00" y1="69.00" x2="634.30" y2="69.00" stroke="#000" stroke-width="1.8"/>
<line x1="629.00" y1="122.25" x2="634.30" y2="122.25" stroke="#000" stroke-width="1.8"/>
<line x1="629.00" y1="175.50" x2="634.30" y2="175.50" stroke="#000" stroke-width="1.8"/>
<line x1="629.00" y1="228.75" x2="634.30" y2="228.75" stroke="#000" stroke-width="1.8"/>
<line x1="629.00" y1="282.00" x2="634.30" y2="282.00" stroke="#000" stroke-width="1.8"/>
<line x1="633.20" y1="289.00" x2="858.00" y2="289.00" stroke="#000" stroke-width="2.3"/>
<line x1="652.60" y1="289.00" x2="652.60" y2="294.50" stroke="#000" stroke-width="1.8"/>
<line x1="689.60" y1="289.00" x2="689.60" y2="294.50" stroke="#000" stroke-width="1.8"/>
<line x1="726.60" y1="289.00" x2="726.60" y2="294.50" stroke="#000" stroke-width="1.8"/>
<line x1="763.60" y1="289.00" x2="763.60" y2="294.50" stroke="#000" stroke-width="1.8"/>
<line x1="800.60" y1="289.00" x2="800.60" y2="294.50" stroke="#000" stroke-width="1.8"/>
<line x1="837.50" y1="289.00" x2="837.50" y2="294.50" stroke="#000" stroke-width="1.8"/>
<line x1="636.00" y1="282.00" x2="854.00" y2="282.00" stroke="#000" stroke-width="1.8" stroke-dasharray="1.8 2.2"/>
<text transform="translate(626.40,74.40) scale(0.78,1)" font-size="14.2" text-anchor="end" fill="#111" stroke="#111" stroke-width="0.32">240</text>
<text transform="translate(626.40,127.65) scale(0.78,1)" font-size="14.2" text-anchor="end" fill="#111" stroke="#111" stroke-width="0.32">180</text>
<text transform="translate(626.40,180.90) scale(0.78,1)" font-size="14.2" text-anchor="end" fill="#111" stroke="#111" stroke-width="0.32">120</text>
<text transform="translate(626.80,234.15) scale(0.78,1)" font-size="14.2" text-anchor="end" fill="#111" stroke="#111" stroke-width="0.32">60</text>
<text transform="translate(627.80,287.40) scale(0.78,1)" font-size="14.2" text-anchor="end" fill="#111" stroke="#111" stroke-width="0.32">0</text>
<text transform="translate(595.60,151.40) rotate(-90) scale(0.78,1)" font-size="14.2" text-anchor="middle" fill="#111" stroke="#111" stroke-width="0.32" font-style="italic">gus / EF1α</text>
<text transform="translate(597.20,216.20) scale(0.78,1)" font-size="10.6" text-anchor="start" fill="#111" stroke="#111" stroke-width="0.22" font-style="italic">75</text>
<line x1="608.40" y1="214.00" x2="631.40" y2="214.00" stroke="#000" stroke-width="1.7"/>
<polyline points="624.40,209.40 631.40,214.00 624.40,218.60" fill="none" stroke="#000" stroke-width="1.5"/>
<text transform="translate(597.20,226.20) scale(0.78,1)" font-size="10.6" text-anchor="start" fill="#111" stroke="#111" stroke-width="0.22" font-style="italic">67</text>
<line x1="608.40" y1="222.40" x2="631.40" y2="222.40" stroke="#000" stroke-width="1.7"/>
<polyline points="624.40,217.80 631.40,222.40 624.40,227.00" fill="none" stroke="#000" stroke-width="1.5"/>
<line x1="653.50" y1="201.00" x2="653.50" y2="242.00" stroke="#222" stroke-width="1.1"/>
<line x1="640.60" y1="222.50" x2="660.60" y2="222.50" stroke="#222" stroke-width="1.1"/>
<rect x="647.10" y="185.70" width="4.6" height="4.6" fill="none" stroke="#111" stroke-width="1.1"/>
<rect x="647.10" y="196.10" width="4.6" height="4.6" fill="none" stroke="#111" stroke-width="1.1"/>
<rect x="647.10" y="207.70" width="4.6" height="4.6" fill="none" stroke="#111" stroke-width="1.1"/>
<rect x="647.10" y="227.70" width="4.6" height="4.6" fill="none" stroke="#111" stroke-width="1.1"/>
<rect x="647.10" y="242.70" width="4.6" height="4.6" fill="none" stroke="#111" stroke-width="1.1"/>
<rect x="647.10" y="252.70" width="4.6" height="4.6" fill="none" stroke="#111" stroke-width="1.1"/>
<rect x="647.10" y="259.30" width="4.6" height="4.6" fill="none" stroke="#111" stroke-width="1.1"/>
<rect x="640.70" y="205.30" width="4.6" height="4.6" fill="none" stroke="#111" stroke-width="1.1"/>
<rect x="640.70" y="225.30" width="4.6" height="4.6" fill="none" stroke="#111" stroke-width="1.1"/>
<rect x="640.70" y="239.70" width="4.6" height="4.6" fill="none" stroke="#111" stroke-width="1.1"/>
<rect x="640.70" y="242.70" width="4.6" height="4.6" fill="none" stroke="#111" stroke-width="1.1"/>
<rect x="653.70" y="203.70" width="4.6" height="4.6" fill="none" stroke="#111" stroke-width="1.1"/>
<rect x="653.70" y="223.30" width="4.6" height="4.6" fill="none" stroke="#111" stroke-width="1.1"/>
<rect x="653.70" y="237.70" width="4.6" height="4.6" fill="none" stroke="#111" stroke-width="1.1"/>
<rect x="660.40" y="186.20" width="4.4" height="4.4" fill="#000"/>
<rect x="660.40" y="202.80" width="4.4" height="4.4" fill="#000"/>
<rect x="660.40" y="210.20" width="4.4" height="4.4" fill="#000"/>
<text transform="translate(658.60,180.50) scale(0.78,1)" font-size="10.6" text-anchor="start" fill="#111" stroke="#111" stroke-width="0.22">S-44</text>
<text transform="translate(663.00,201.50) scale(0.78,1)" font-size="10.6" text-anchor="start" fill="#111" stroke="#111" stroke-width="0.22">S-2</text>
<text transform="translate(662.00,224.90) scale(0.78,1)" font-size="10.6" text-anchor="start" fill="#111" stroke="#111" stroke-width="0.22">S-6</text>
<line x1="689.50" y1="181.00" x2="689.50" y2="251.00" stroke="#222" stroke-width="1.1"/>
<line x1="678.00" y1="215.50" x2="702.00" y2="215.50" stroke="#222" stroke-width="1.1"/>
<polygon points="686.90,81.97 691.90,81.97 689.40,77.22" fill="none" stroke="#111" stroke-width="1.05"/>
<polygon points="686.90,133.57 691.90,133.57 689.40,128.82" fill="none" stroke="#111" stroke-width="1.05"/>
<polygon points="686.90,175.38 691.90,175.38 689.40,170.62" fill="none" stroke="#111" stroke-width="1.05"/>
<polygon points="686.90,180.97 691.90,180.97 689.40,176.22" fill="none" stroke="#111" stroke-width="1.05"/>
<polygon points="686.90,190.38 691.90,190.38 689.40,185.62" fill="none" stroke="#111" stroke-width="1.05"/>
<polygon points="686.90,197.38 691.90,197.38 689.40,192.62" fill="none" stroke="#111" stroke-width="1.05"/>
<polygon points="686.90,202.38 691.90,202.38 689.40,197.62" fill="none" stroke="#111" stroke-width="1.05"/>
<polygon points="686.90,208.38 691.90,208.38 689.40,203.62" fill="none" stroke="#111" stroke-width="1.05"/>
<polygon points="686.90,214.38 691.90,214.38 689.40,209.62" fill="none" stroke="#111" stroke-width="1.05"/>
<polygon points="686.90,229.38 691.90,229.38 689.40,224.62" fill="none" stroke="#111" stroke-width="1.05"/>
<polygon points="678.90,179.97 683.90,179.97 681.40,175.22" fill="none" stroke="#111" stroke-width="1.05"/>
<polygon points="678.90,208.38 683.90,208.38 681.40,203.62" fill="none" stroke="#111" stroke-width="1.05"/>
<polygon points="694.50,216.38 699.50,216.38 697.00,211.62" fill="none" stroke="#111" stroke-width="1.05"/>
<polygon points="678.90,220.38 683.90,220.38 681.40,215.62" fill="none" stroke="#111" stroke-width="1.05"/>
<polygon points="685.50,222.38 690.50,222.38 688.00,217.62" fill="none" stroke="#111" stroke-width="1.05"/>
<polygon points="689.90,220.38 694.90,220.38 692.40,215.62" fill="none" stroke="#111" stroke-width="1.05"/>
<polygon points="688.50,235.78 693.50,235.78 691.00,231.03" fill="none" stroke="#111" stroke-width="1.05"/>
<polygon points="694.50,235.78 699.50,235.78 697.00,231.03" fill="none" stroke="#111" stroke-width="1.05"/>
<polygon points="677.50,239.38 682.50,239.38 680.00,234.62" fill="none" stroke="#111" stroke-width="1.05"/>
<polygon points="679.90,242.38 684.90,242.38 682.40,237.62" fill="none" stroke="#111" stroke-width="1.05"/>
<polygon points="682.90,242.38 687.90,242.38 685.40,237.62" fill="none" stroke="#111" stroke-width="1.05"/>
<polygon points="691.50,242.38 696.50,242.38 694.00,237.62" fill="none" stroke="#111" stroke-width="1.05"/>
<polygon points="696.90,242.38 701.90,242.38 699.40,237.62" fill="none" stroke="#111" stroke-width="1.05"/>
<polygon points="677.50,245.78 682.50,245.78 680.00,241.03" fill="none" stroke="#111" stroke-width="1.05"/>
<polygon points="685.50,245.78 690.50,245.78 688.00,241.03" fill="none" stroke="#111" stroke-width="1.05"/>
<polygon points="688.70,245.78 693.70,245.78 691.20,241.03" fill="none" stroke="#111" stroke-width="1.05"/>
<polygon points="690.90,247.97 695.90,247.97 693.40,243.22" fill="none" stroke="#111" stroke-width="1.05"/>
<polygon points="678.90,251.38 683.90,251.38 681.40,246.62" fill="none" stroke="#111" stroke-width="1.05"/>
<polygon points="688.50,249.57 693.50,249.57 691.00,244.82" fill="none" stroke="#111" stroke-width="1.05"/>
<polygon points="678.90,264.38 683.90,264.38 681.40,259.62" fill="none" stroke="#111" stroke-width="1.05"/>
<polygon points="688.50,264.38 693.50,264.38 691.00,259.62" fill="none" stroke="#111" stroke-width="1.05"/>
<polygon points="703.10,202.70 708.10,202.70 705.60,198.10" fill="#000"/>
<polygon points="703.10,217.10 708.10,217.10 705.60,212.50" fill="#000"/>
<polygon points="703.10,221.10 708.10,221.10 705.60,216.50" fill="#000"/>
<text transform="translate(701.00,188.50) scale(0.78,1)" font-size="10.6" text-anchor="start" fill="#111" stroke="#111" stroke-width="0.22">RS-24</text>
<text transform="translate(712.60,215.50) scale(0.78,1)" font-size="10.6" text-anchor="start" fill="#111" stroke="#111" stroke-width="0.22">RS-1</text>
<text transform="translate(710.60,228.10) scale(0.78,1)" font-size="10.6" text-anchor="start" fill="#111" stroke="#111" stroke-width="0.22">RS-6</text>
<circle cx="716.55" cy="282.45" r="2.3" fill="none" stroke="#111" stroke-width="1.7"/>
<circle cx="718.14" cy="282.29" r="2.3" fill="none" stroke="#111" stroke-width="1.7"/>
<circle cx="719.82" cy="282.40" r="2.3" fill="none" stroke="#111" stroke-width="1.7"/>
<circle cx="722.01" cy="282.34" r="2.3" fill="none" stroke="#111" stroke-width="1.7"/>
<circle cx="723.83" cy="282.19" r="2.3" fill="none" stroke="#111" stroke-width="1.7"/>
<circle cx="725.47" cy="282.36" r="2.3" fill="none" stroke="#111" stroke-width="1.7"/>
<circle cx="727.15" cy="282.27" r="2.3" fill="none" stroke="#111" stroke-width="1.7"/>
<circle cx="729.05" cy="282.57" r="2.3" fill="none" stroke="#111" stroke-width="1.7"/>
<circle cx="730.58" cy="282.40" r="2.3" fill="none" stroke="#111" stroke-width="1.7"/>
<circle cx="732.09" cy="282.42" r="2.3" fill="none" stroke="#111" stroke-width="1.7"/>
<circle cx="734.19" cy="282.60" r="2.3" fill="none" stroke="#111" stroke-width="1.7"/>
<circle cx="736.04" cy="282.17" r="2.3" fill="none" stroke="#111" stroke-width="1.7"/>
<circle cx="737.53" cy="282.40" r="2.3" fill="none" stroke="#111" stroke-width="1.7"/>
<line x1="725.00" y1="267.20" x2="725.00" y2="270.80" stroke="#000" stroke-width="1.3"/>
<polygon points="722.40,270.60 727.60,270.60 725.00,277.20" fill="#fff" stroke="#000" stroke-width="1.2"/>
<line x1="735.00" y1="267.20" x2="735.00" y2="270.80" stroke="#000" stroke-width="1.3"/>
<polygon points="732.40,270.60 737.60,270.60 735.00,277.20" fill="#fff" stroke="#000" stroke-width="1.2"/>
<text transform="translate(707.40,264.50) scale(0.78,1)" font-size="10.6" text-anchor="start" fill="#111" stroke="#111" stroke-width="0.22">R-0.1</text>
<text transform="translate(732.60,264.50) scale(0.78,1)" font-size="10.6" text-anchor="start" fill="#111" stroke="#111" stroke-width="0.22">R-0.4</text>
<line x1="753.00" y1="282.50" x2="773.60" y2="282.50" stroke="#222" stroke-width="1.1"/>
<polygon points="750.60,279.72 755.40,279.72 753.00,284.28" fill="none" stroke="#111" stroke-width="1.05"/>
<polygon points="771.20,279.72 776.00,279.72 773.60,284.28" fill="none" stroke="#111" stroke-width="1.05"/>
<line x1="790.60" y1="282.50" x2="810.40" y2="282.50" stroke="#222" stroke-width="1.1"/>
<polygon points="788.30,282.00 790.60,279.70 792.90,282.00 790.60,284.30" fill="none" stroke="#111" stroke-width="1.0"/>
<polygon points="798.30,282.00 800.60,279.70 802.90,282.00 800.60,284.30" fill="none" stroke="#111" stroke-width="1.0"/>
<polygon points="807.90,282.00 810.20,279.70 812.50,282.00 810.20,284.30" fill="none" stroke="#111" stroke-width="1.0"/>
<line x1="837.50" y1="193.60" x2="837.50" y2="231.00" stroke="#222" stroke-width="1.1"/>
<line x1="825.60" y1="209.50" x2="849.60" y2="209.50" stroke="#222" stroke-width="1.1"/>
<circle cx="837.40" cy="193.60" r="2.6" fill="#000"/>
<circle cx="837.40" cy="203.40" r="2.2" fill="none" stroke="#111" stroke-width="1.05"/>
<circle cx="837.40" cy="231.00" r="2.2" fill="none" stroke="#111" stroke-width="1.05"/>
<text transform="translate(822.00,178.50) scale(0.78,1)" font-size="10.6" text-anchor="start" fill="#111" stroke="#111" stroke-width="0.22">PC-100</text>
<text transform="translate(813.40,212.60) scale(0.76,1)" font-size="10.6" text-anchor="start" fill="#111" stroke="#111" stroke-width="0.22" font-style="italic">82</text>
<text transform="translate(656.60,311.00) scale(0.78,1)" font-size="14.2" text-anchor="middle" fill="#111" stroke="#111" stroke-width="0.32">17</text>
<text transform="translate(692.60,311.00) scale(0.78,1)" font-size="14.2" text-anchor="middle" fill="#111" stroke="#111" stroke-width="0.32">37</text>
<text transform="translate(729.60,311.00) scale(0.78,1)" font-size="14.2" text-anchor="middle" fill="#111" stroke="#111" stroke-width="0.32">13</text>
<text transform="translate(766.40,311.00) scale(0.78,1)" font-size="14.2" text-anchor="middle" fill="#111" stroke="#111" stroke-width="0.32">2</text>
<text transform="translate(801.80,311.00) scale(0.78,1)" font-size="14.2" text-anchor="middle" fill="#111" stroke="#111" stroke-width="0.32">3</text>
<text transform="translate(840.90,311.00) scale(0.78,1)" font-size="14.2" text-anchor="middle" fill="#111" stroke="#111" stroke-width="0.32">3</text>
<text transform="translate(656.20,331.00) scale(0.78,1)" font-size="14.2" text-anchor="middle" fill="#111" stroke="#111" stroke-width="0.32">S</text>
<text transform="translate(693.20,331.00) scale(0.78,1)" font-size="14.2" text-anchor="middle" fill="#111" stroke="#111" stroke-width="0.32">RS</text>
<text transform="translate(728.20,331.00) scale(0.78,1)" font-size="14.2" text-anchor="middle" fill="#111" stroke="#111" stroke-width="0.32">R</text>
<text transform="translate(768.00,331.00) scale(0.78,1)" font-size="14.2" text-anchor="middle" fill="#111" stroke="#111" stroke-width="0.32">WT</text>
<line x1="652.00" y1="340.60" x2="775.00" y2="340.60" stroke="#000" stroke-width="1.7"/>
<text x="668.00" y="354.20" font-size="13.5" font-family="'DejaVu Sans', sans-serif" text-anchor="middle" fill="#555">♀</text>
<text transform="translate(675.00,354.40) scale(0.78,1)" font-size="14.2" text-anchor="start" fill="#111" stroke="#111" stroke-width="0.32">23.C.7-2 x</text>
<text transform="translate(738.80,354.46) rotate(-45)" font-size="12.8" font-family="'DejaVu Sans', sans-serif" text-anchor="middle" fill="#333">♂</text>
<text transform="translate(743.00,354.40) scale(0.78,1)" font-size="14.2" text-anchor="start" fill="#111" stroke="#111" stroke-width="0.32">WT</text>
<text transform="translate(802.00,354.40) scale(0.78,1)" font-size="14.2" text-anchor="middle" fill="#111" stroke="#111" stroke-width="0.32">NC</text>
<text transform="translate(842.00,354.40) scale(0.78,1)" font-size="14.2" text-anchor="middle" fill="#111" stroke="#111" stroke-width="0.32">PC</text>
<text transform="translate(49.60,391.80) scale(0.83,1)" font-size="20" text-anchor="start" fill="#000" stroke="#000" stroke-width="0.2" font-weight="bold">(D)</text>
<line x1="91.00" y1="408.60" x2="91.00" y2="563.60" stroke="#000" stroke-width="2.3"/>
<line x1="85.60" y1="409.60" x2="91.00" y2="409.60" stroke="#000" stroke-width="1.8"/>
<line x1="85.60" y1="461.00" x2="91.00" y2="461.00" stroke="#000" stroke-width="1.8"/>
<line x1="85.60" y1="511.60" x2="91.00" y2="511.60" stroke="#000" stroke-width="1.8"/>
<line x1="86.50" y1="562.60" x2="94.60" y2="562.60" stroke="#000" stroke-width="1.8"/>
<line x1="91.00" y1="583.80" x2="91.00" y2="626.10" stroke="#000" stroke-width="2.3"/>
<line x1="86.50" y1="584.80" x2="95.00" y2="584.80" stroke="#000" stroke-width="1.8"/>
<line x1="85.60" y1="616.00" x2="91.00" y2="616.00" stroke="#000" stroke-width="1.8"/>
<line x1="89.90" y1="625.00" x2="317.00" y2="625.00" stroke="#000" stroke-width="2.3"/>
<line x1="112.60" y1="625.00" x2="112.60" y2="630.50" stroke="#000" stroke-width="1.8"/>
<line x1="157.80" y1="625.00" x2="157.80" y2="630.50" stroke="#000" stroke-width="1.8"/>
<line x1="203.00" y1="625.00" x2="203.00" y2="630.50" stroke="#000" stroke-width="1.8"/>
<line x1="248.40" y1="625.00" x2="248.40" y2="630.50" stroke="#000" stroke-width="1.8"/>
<line x1="293.40" y1="625.00" x2="293.40" y2="630.50" stroke="#000" stroke-width="1.8"/>
<line x1="93.00" y1="616.00" x2="313.00" y2="616.00" stroke="#000" stroke-width="1.8" stroke-dasharray="1.8 2.2"/>
<text transform="translate(79.50,414.40) scale(0.78,1)" font-size="14.2" text-anchor="end" fill="#111" stroke="#111" stroke-width="0.32">120</text>
<text transform="translate(79.50,465.80) scale(0.78,1)" font-size="14.2" text-anchor="end" fill="#111" stroke="#111" stroke-width="0.32">100</text>
<text transform="translate(79.50,516.40) scale(0.78,1)" font-size="14.2" text-anchor="end" fill="#111" stroke="#111" stroke-width="0.32">80</text>
<text transform="translate(79.50,567.40) scale(0.78,1)" font-size="14.2" text-anchor="end" fill="#111" stroke="#111" stroke-width="0.32">60</text>
<text transform="translate(79.50,589.60) scale(0.78,1)" font-size="14.2" text-anchor="end" fill="#111" stroke="#111" stroke-width="0.32">1</text>
<text transform="translate(79.50,620.80) scale(0.78,1)" font-size="14.2" text-anchor="end" fill="#111" stroke="#111" stroke-width="0.32">0</text>
<text transform="translate(53.20,507.40) rotate(-90) scale(0.78,1)" font-size="14.2" text-anchor="middle" fill="#111" stroke="#111" stroke-width="0.32" font-style="italic">gfp / EF1α</text>
<rect x="181.4" y="402.6" width="45.2" height="102.4" fill="#fff" stroke="#c8c8c8" stroke-width="1"/>
<rect x="190.70" y="413.10" width="4.6" height="4.6" fill="none" stroke="#111" stroke-width="1.1"/>
<polygon points="190.70,436.58 195.30,436.58 193.00,432.21" fill="none" stroke="#111" stroke-width="1.05"/>
<circle cx="193.00" cy="452.60" r="2.1" fill="none" stroke="#111" stroke-width="1.05"/>
<polygon points="190.70,471.80 193.00,469.50 195.30,471.80 193.00,474.10" fill="none" stroke="#111" stroke-width="1.0"/>
<circle cx="193.00" cy="490.80" r="2.1" fill="none" stroke="#111" stroke-width="1.05"/>
<text transform="translate(205.60,419.80) scale(0.78,1)" font-size="12.8" text-anchor="start" fill="#111" stroke="#111" stroke-width="0.32">S</text>
<text transform="translate(205.60,438.80) scale(0.78,1)" font-size="12.8" text-anchor="start" fill="#111" stroke="#111" stroke-width="0.32">RS</text>
<text transform="translate(205.60,457.00) scale(0.78,1)" font-size="12.8" text-anchor="start" fill="#111" stroke="#111" stroke-width="0.32">R</text>
<text transform="translate(205.60,476.20) scale(0.78,1)" font-size="12.8" text-anchor="start" fill="#111" stroke="#111" stroke-width="0.32">NC</text>
<text transform="translate(205.60,495.20) scale(0.78,1)" font-size="12.8" text-anchor="start" fill="#111" stroke="#111" stroke-width="0.32">PC</text>
<line x1="113.50" y1="591.00" x2="113.50" y2="600.60" stroke="#222" stroke-width="1.1"/>
<line x1="98.00" y1="595.50" x2="125.00" y2="595.50" stroke="#222" stroke-width="1.1"/>
<rect x="98.10" y="599.30" width="4.6" height="4.6" fill="none" stroke="#111" stroke-width="1.1"/>
<rect x="110.30" y="588.10" width="4.6" height="4.6" fill="none" stroke="#111" stroke-width="1.1"/>
<rect x="122.30" y="586.70" width="4.6" height="4.6" fill="none" stroke="#111" stroke-width="1.1"/>
<rect x="122.30" y="594.70" width="4.6" height="4.6" fill="none" stroke="#111" stroke-width="1.1"/>
<line x1="143.00" y1="599.50" x2="173.00" y2="599.50" stroke="#222" stroke-width="1.1"/>
<line x1="157.50" y1="596.50" x2="157.50" y2="602.00" stroke="#222" stroke-width="1.1"/>
<polygon points="142.90,598.38 147.90,598.38 145.40,593.62" fill="none" stroke="#111" stroke-width="1.05"/>
<polygon points="142.90,604.98 147.90,604.98 145.40,600.23" fill="none" stroke="#111" stroke-width="1.05"/>
<polygon points="154.90,600.77 159.90,600.77 157.40,596.02" fill="none" stroke="#111" stroke-width="1.05"/>
<polygon points="167.50,601.38 172.50,601.38 170.00,596.62" fill="none" stroke="#111" stroke-width="1.05"/>
<line x1="188.60" y1="603.50" x2="218.00" y2="603.50" stroke="#222" stroke-width="1.1"/>
<line x1="203.50" y1="595.60" x2="203.50" y2="611.60" stroke="#222" stroke-width="1.1"/>
<circle cx="190.60" cy="611.00" r="2.3" fill="none" stroke="#111" stroke-width="1.05"/>
<circle cx="203.00" cy="592.00" r="2.3" fill="none" stroke="#111" stroke-width="1.05"/>
<circle cx="203.00" cy="604.00" r="2.3" fill="none" stroke="#111" stroke-width="1.05"/>
<circle cx="214.60" cy="605.40" r="2.3" fill="none" stroke="#111" stroke-width="1.05"/>
<line x1="234.00" y1="612.50" x2="263.40" y2="612.50" stroke="#222" stroke-width="1.1"/>
<polygon points="233.70,612.60 236.00,610.30 238.30,612.60 236.00,614.90" fill="none" stroke="#111" stroke-width="1.0"/>
<polygon points="245.70,610.80 248.00,608.50 250.30,610.80 248.00,613.10" fill="none" stroke="#111" stroke-width="1.0"/>
<polygon points="257.70,611.00 260.00,608.70 262.30,611.00 260.00,613.30" fill="none" stroke="#111" stroke-width="1.0"/>
<line x1="293.50" y1="461.00" x2="293.50" y2="534.00" stroke="#222" stroke-width="1.1"/>
<line x1="278.60" y1="499.50" x2="309.00" y2="499.50" stroke="#222" stroke-width="1.1"/>
<circle cx="293.00" cy="461.00" r="2.6" fill="#000"/>
<circle cx="293.00" cy="507.00" r="2.2" fill="none" stroke="#111" stroke-width="1.05"/>
<circle cx="293.00" cy="529.60" r="2.2" fill="none" stroke="#111" stroke-width="1.05"/>
<text transform="translate(270.60,450.90) scale(0.78,1)" font-size="10.6" text-anchor="start" fill="#111" stroke="#111" stroke-width="0.22">PC-100</text>
<text transform="translate(266.00,503.00) scale(0.76,1)" font-size="10.6" text-anchor="start" fill="#111" stroke="#111" stroke-width="0.22" font-style="italic">85</text>
<text transform="translate(92.40,647.40) scale(0.78,1)" font-size="14.2" text-anchor="end" fill="#111" stroke="#111" stroke-width="0.32">Number of plants</text>
<text transform="translate(92.40,669.00) scale(0.78,1)" font-size="14.2" text-anchor="end" fill="#111" stroke="#111" stroke-width="0.32">BC1 genotype</text>
<text transform="translate(112.60,647.40) scale(0.78,1)" font-size="14.2" text-anchor="middle" fill="#111" stroke="#111" stroke-width="0.32">4</text>
<text transform="translate(157.80,647.40) scale(0.78,1)" font-size="14.2" text-anchor="middle" fill="#111" stroke="#111" stroke-width="0.32">4</text>
<text transform="translate(203.00,647.40) scale(0.78,1)" font-size="14.2" text-anchor="middle" fill="#111" stroke="#111" stroke-width="0.32">4</text>
<text transform="translate(248.40,647.40) scale(0.78,1)" font-size="14.2" text-anchor="middle" fill="#111" stroke="#111" stroke-width="0.32">3</text>
<text transform="translate(293.40,647.40) scale(0.78,1)" font-size="14.2" text-anchor="middle" fill="#111" stroke="#111" stroke-width="0.32">3</text>
<text transform="translate(112.00,669.00) scale(0.78,1)" font-size="14.2" text-anchor="middle" fill="#111" stroke="#111" stroke-width="0.32">S</text>
<text transform="translate(157.20,669.00) scale(0.78,1)" font-size="14.2" text-anchor="middle" fill="#111" stroke="#111" stroke-width="0.32">RS</text>
<text transform="translate(202.40,669.00) scale(0.78,1)" font-size="14.2" text-anchor="middle" fill="#111" stroke="#111" stroke-width="0.32">R</text>
<line x1="109.60" y1="677.50" x2="207.40" y2="677.50" stroke="#000" stroke-width="1.7"/>
<text x="111.50" y="690.80" font-size="13.5" font-family="'DejaVu Sans', sans-serif" text-anchor="middle" fill="#555">♀</text>
<text transform="translate(121.40,691.00) scale(0.78,1)" font-size="14.2" text-anchor="start" fill="#111" stroke="#111" stroke-width="0.32">23.C.7-D x</text>
<text transform="translate(188.80,691.06) rotate(-45)" font-size="12.8" font-family="'DejaVu Sans', sans-serif" text-anchor="middle" fill="#333">♂</text>
<text transform="translate(193.40,691.00) scale(0.78,1)" font-size="14.2" text-anchor="start" fill="#111" stroke="#111" stroke-width="0.32">WT</text>
<text transform="translate(252.40,691.00) scale(0.78,1)" font-size="14.2" text-anchor="middle" fill="#111" stroke="#111" stroke-width="0.32">NC</text>
<text transform="translate(292.00,691.00) scale(0.78,1)" font-size="14.2" text-anchor="middle" fill="#111" stroke="#111" stroke-width="0.32">PC</text>
<text transform="translate(330.60,391.80) scale(0.83,1)" font-size="20" text-anchor="start" fill="#000" stroke="#000" stroke-width="0.2" font-weight="bold">(E)</text>
<line x1="365.80" y1="412.00" x2="365.80" y2="626.60" stroke="#000" stroke-width="2.0"/>
<line x1="360.40" y1="413.00" x2="365.80" y2="413.00" stroke="#000" stroke-width="1.6"/>
<line x1="360.40" y1="481.00" x2="365.80" y2="481.00" stroke="#000" stroke-width="1.6"/>
<line x1="360.40" y1="549.00" x2="365.80" y2="549.00" stroke="#000" stroke-width="1.6"/>
<line x1="360.40" y1="617.00" x2="365.80" y2="617.00" stroke="#000" stroke-width="1.6"/>
<line x1="364.80" y1="625.60" x2="592.40" y2="625.60" stroke="#000" stroke-width="2.3"/>
<line x1="388.00" y1="625.60" x2="388.00" y2="631.00" stroke="#000" stroke-width="1.8"/>
<line x1="433.40" y1="625.60" x2="433.40" y2="631.00" stroke="#000" stroke-width="1.8"/>
<line x1="478.60" y1="625.60" x2="478.60" y2="631.00" stroke="#000" stroke-width="1.8"/>
<line x1="523.70" y1="625.60" x2="523.70" y2="631.00" stroke="#000" stroke-width="1.8"/>
<line x1="568.70" y1="625.60" x2="568.70" y2="631.00" stroke="#000" stroke-width="1.8"/>
<line x1="367.50" y1="617.00" x2="588.00" y2="617.00" stroke="#000" stroke-width="1.8" stroke-dasharray="1.8 2.2"/>
<text transform="translate(350.40,418.40) scale(0.78,1)" font-size="14.2" text-anchor="end" fill="#111" stroke="#111" stroke-width="0.32">120</text>
<text transform="translate(353.20,486.40) scale(0.78,1)" font-size="14.2" text-anchor="end" fill="#111" stroke="#111" stroke-width="0.32">80</text>
<text transform="translate(352.60,554.40) scale(0.78,1)" font-size="14.2" text-anchor="end" fill="#111" stroke="#111" stroke-width="0.32">40</text>
<text transform="translate(354.20,622.40) scale(0.78,1)" font-size="14.2" text-anchor="end" fill="#111" stroke="#111" stroke-width="0.32">0</text>
<text transform="translate(333.60,507.80) rotate(-90) scale(0.78,1)" font-size="14.2" text-anchor="middle" fill="#111" stroke="#111" stroke-width="0.32" font-style="italic">luc / EF1α</text>
<line x1="374.00" y1="525.50" x2="402.00" y2="525.50" stroke="#222" stroke-width="1.1"/>
<line x1="387.50" y1="521.00" x2="387.50" y2="528.00" stroke="#222" stroke-width="1.1"/>
<rect x="373.10" y="525.30" width="4.6" height="4.6" fill="none" stroke="#111" stroke-width="1.1"/>
<rect x="385.30" y="515.30" width="4.6" height="4.6" fill="none" stroke="#111" stroke-width="1.1"/>
<rect x="385.30" y="523.30" width="4.6" height="4.6" fill="none" stroke="#111" stroke-width="1.1"/>
<rect x="397.30" y="523.70" width="4.6" height="4.6" fill="none" stroke="#111" stroke-width="1.1"/>
<text transform="translate(407.00,529.20) scale(0.76,1)" font-size="10.6" text-anchor="start" fill="#111" stroke="#111" stroke-width="0.22" font-style="italic">54</text>
<line x1="433.50" y1="486.00" x2="433.50" y2="532.00" stroke="#222" stroke-width="1.1"/>
<line x1="418.00" y1="508.50" x2="448.00" y2="508.50" stroke="#222" stroke-width="1.1"/>
<polygon points="430.30,480.19 434.90,480.19 432.60,475.81" fill="none" stroke="#111" stroke-width="1.05"/>
<polygon points="430.30,507.19 434.90,507.19 432.60,502.81" fill="none" stroke="#111" stroke-width="1.05"/>
<polygon points="430.30,519.78 434.90,519.78 432.60,515.42" fill="none" stroke="#111" stroke-width="1.05"/>
<polygon points="430.30,532.78 434.90,532.78 432.60,528.42" fill="none" stroke="#111" stroke-width="1.05"/>
<text transform="translate(450.00,512.20) scale(0.76,1)" font-size="10.6" text-anchor="start" fill="#111" stroke="#111" stroke-width="0.22" font-style="italic">64</text>
<line x1="466.00" y1="616.50" x2="490.00" y2="616.50" stroke="#222" stroke-width="1.1"/>
<circle cx="466.00" cy="616.60" r="2.3" fill="none" stroke="#111" stroke-width="1.05"/>
<circle cx="474.00" cy="616.60" r="2.3" fill="none" stroke="#111" stroke-width="1.05"/>
<circle cx="482.00" cy="616.60" r="2.3" fill="none" stroke="#111" stroke-width="1.05"/>
<circle cx="490.00" cy="616.60" r="2.3" fill="none" stroke="#111" stroke-width="1.05"/>
<line x1="511.00" y1="616.50" x2="535.00" y2="616.50" stroke="#222" stroke-width="1.1"/>
<polygon points="508.70,616.60 511.00,614.30 513.30,616.60 511.00,618.90" fill="none" stroke="#111" stroke-width="1.0"/>
<polygon points="520.70,616.60 523.00,614.30 525.30,616.60 523.00,618.90" fill="none" stroke="#111" stroke-width="1.0"/>
<polygon points="532.70,616.60 535.00,614.30 537.30,616.60 535.00,618.90" fill="none" stroke="#111" stroke-width="1.0"/>
<line x1="568.50" y1="415.60" x2="568.50" y2="524.40" stroke="#222" stroke-width="1.1"/>
<line x1="554.00" y1="470.50" x2="583.60" y2="470.50" stroke="#222" stroke-width="1.1"/>
<circle cx="568.40" cy="430.60" r="2.2" fill="none" stroke="#111" stroke-width="1.05"/>
<circle cx="568.40" cy="446.40" r="2.6" fill="#000"/>
<circle cx="568.20" cy="533.60" r="2.2" fill="none" stroke="#111" stroke-width="1.05"/>
<text transform="translate(530.60,448.10) scale(0.78,1)" font-size="10.6" text-anchor="start" fill="#111" stroke="#111" stroke-width="0.22">PC-100</text>
<text transform="translate(542.20,475.00) scale(0.76,1)" font-size="10.6" text-anchor="start" fill="#111" stroke="#111" stroke-width="0.22" font-style="italic">86</text>
<text transform="translate(389.20,647.40) scale(0.78,1)" font-size="14.2" text-anchor="middle" fill="#111" stroke="#111" stroke-width="0.32">4</text>
<text transform="translate(434.00,647.40) scale(0.78,1)" font-size="14.2" text-anchor="middle" fill="#111" stroke="#111" stroke-width="0.32">4</text>
<text transform="translate(479.00,647.40) scale(0.78,1)" font-size="14.2" text-anchor="middle" fill="#111" stroke="#111" stroke-width="0.32">4</text>
<text transform="translate(523.70,647.40) scale(0.78,1)" font-size="14.2" text-anchor="middle" fill="#111" stroke="#111" stroke-width="0.32">3</text>
<text transform="translate(568.70,647.40) scale(0.78,1)" font-size="14.2" text-anchor="middle" fill="#111" stroke="#111" stroke-width="0.32">3</text>
<text transform="translate(389.60,669.00) scale(0.78,1)" font-size="14.2" text-anchor="middle" fill="#111" stroke="#111" stroke-width="0.32">S</text>
<text transform="translate(433.00,669.00) scale(0.78,1)" font-size="14.2" text-anchor="middle" fill="#111" stroke="#111" stroke-width="0.32">RS</text>
<text transform="translate(477.60,669.00) scale(0.78,1)" font-size="14.2" text-anchor="middle" fill="#111" stroke="#111" stroke-width="0.32">R</text>
<line x1="387.00" y1="677.60" x2="482.00" y2="677.60" stroke="#000" stroke-width="1.7"/>
<text x="388.60" y="690.80" font-size="13.5" font-family="'DejaVu Sans', sans-serif" text-anchor="middle" fill="#555">♀</text>
<text transform="translate(398.40,691.00) scale(0.78,1)" font-size="14.2" text-anchor="start" fill="#111" stroke="#111" stroke-width="0.32">23.C.7-D x</text>
<text transform="translate(465.20,691.06) rotate(-45)" font-size="12.8" font-family="'DejaVu Sans', sans-serif" text-anchor="middle" fill="#333">♂</text>
<text transform="translate(469.60,691.00) scale(0.78,1)" font-size="14.2" text-anchor="start" fill="#111" stroke="#111" stroke-width="0.32">WT</text>
<text transform="translate(526.40,691.00) scale(0.78,1)" font-size="14.2" text-anchor="middle" fill="#111" stroke="#111" stroke-width="0.32">NC</text>
<text transform="translate(565.60,691.00) scale(0.78,1)" font-size="14.2" text-anchor="middle" fill="#111" stroke="#111" stroke-width="0.32">PC</text>
<text transform="translate(617.00,391.80) scale(0.83,1)" font-size="20" text-anchor="start" fill="#000" stroke="#000" stroke-width="0.2" font-weight="bold">(F)</text>
<line x1="642.00" y1="411.00" x2="642.00" y2="625.70" stroke="#000" stroke-width="2.0"/>
<line x1="636.60" y1="412.00" x2="642.00" y2="412.00" stroke="#000" stroke-width="1.6"/>
<line x1="636.60" y1="480.00" x2="642.00" y2="480.00" stroke="#000" stroke-width="1.6"/>
<line x1="636.60" y1="548.00" x2="642.00" y2="548.00" stroke="#000" stroke-width="1.6"/>
<line x1="636.60" y1="616.00" x2="642.00" y2="616.00" stroke="#000" stroke-width="1.6"/>
<line x1="641.00" y1="624.60" x2="869.00" y2="624.60" stroke="#000" stroke-width="2.3"/>
<line x1="664.40" y1="624.60" x2="664.40" y2="630.00" stroke="#000" stroke-width="1.8"/>
<line x1="709.60" y1="624.60" x2="709.60" y2="630.00" stroke="#000" stroke-width="1.8"/>
<line x1="754.80" y1="624.60" x2="754.80" y2="630.00" stroke="#000" stroke-width="1.8"/>
<line x1="800.00" y1="624.60" x2="800.00" y2="630.00" stroke="#000" stroke-width="1.8"/>
<line x1="845.20" y1="624.60" x2="845.20" y2="630.00" stroke="#000" stroke-width="1.8"/>
<line x1="643.80" y1="616.00" x2="865.00" y2="616.00" stroke="#000" stroke-width="1.8" stroke-dasharray="1.8 2.2"/>
<text transform="translate(625.60,417.40) scale(0.78,1)" font-size="14.2" text-anchor="end" fill="#111" stroke="#111" stroke-width="0.32">120</text>
<text transform="translate(627.80,485.40) scale(0.78,1)" font-size="14.2" text-anchor="end" fill="#111" stroke="#111" stroke-width="0.32">80</text>
<text transform="translate(627.80,553.40) scale(0.78,1)" font-size="14.2" text-anchor="end" fill="#111" stroke="#111" stroke-width="0.32">40</text>
<text transform="translate(630.20,621.40) scale(0.78,1)" font-size="14.2" text-anchor="end" fill="#111" stroke="#111" stroke-width="0.32">0</text>
<text transform="translate(608.00,506.00) rotate(-90) scale(0.78,1)" font-size="14.2" text-anchor="middle" fill="#111" stroke="#111" stroke-width="0.32" font-style="italic">gus / EF1α</text>
<line x1="664.50" y1="474.00" x2="664.50" y2="507.00" stroke="#222" stroke-width="1.1"/>
<line x1="649.00" y1="490.50" x2="678.00" y2="490.50" stroke="#222" stroke-width="1.1"/>
<rect x="661.70" y="476.30" width="4.6" height="4.6" fill="none" stroke="#111" stroke-width="1.1"/>
<rect x="673.70" y="475.70" width="4.6" height="4.6" fill="none" stroke="#111" stroke-width="1.1"/>
<rect x="661.70" y="486.10" width="4.6" height="4.6" fill="none" stroke="#111" stroke-width="1.1"/>
<rect x="661.70" y="511.30" width="4.6" height="4.6" fill="none" stroke="#111" stroke-width="1.1"/>
<text transform="translate(680.00,495.40) scale(0.76,1)" font-size="10.6" text-anchor="start" fill="#111" stroke="#111" stroke-width="0.22" font-style="italic">74</text>
<line x1="709.50" y1="458.00" x2="709.50" y2="532.40" stroke="#222" stroke-width="1.1"/>
<line x1="694.60" y1="495.50" x2="723.40" y2="495.50" stroke="#222" stroke-width="1.1"/>
<polygon points="706.70,452.79 711.30,452.79 709.00,448.42" fill="none" stroke="#111" stroke-width="1.05"/>
<polygon points="706.70,478.19 711.30,478.19 709.00,473.81" fill="none" stroke="#111" stroke-width="1.05"/>
<polygon points="694.70,530.58 699.30,530.58 697.00,526.22" fill="none" stroke="#111" stroke-width="1.05"/>
<polygon points="719.10,525.78 723.70,525.78 721.40,521.42" fill="none" stroke="#111" stroke-width="1.05"/>
<text transform="translate(726.00,500.80) scale(0.76,1)" font-size="10.6" text-anchor="start" fill="#111" stroke="#111" stroke-width="0.22" font-style="italic">71</text>
<line x1="742.40" y1="616.50" x2="766.60" y2="616.50" stroke="#222" stroke-width="1.1"/>
<circle cx="742.40" cy="616.00" r="2.3" fill="none" stroke="#111" stroke-width="1.05"/>
<circle cx="750.40" cy="616.00" r="2.3" fill="none" stroke="#111" stroke-width="1.05"/>
<circle cx="758.20" cy="616.00" r="2.3" fill="none" stroke="#111" stroke-width="1.05"/>
<circle cx="766.60" cy="616.00" r="2.3" fill="none" stroke="#111" stroke-width="1.05"/>
<line x1="787.60" y1="616.50" x2="811.60" y2="616.50" stroke="#222" stroke-width="1.1"/>
<polygon points="785.30,616.00 787.60,613.70 789.90,616.00 787.60,618.30" fill="none" stroke="#111" stroke-width="1.0"/>
<polygon points="797.10,616.00 799.40,613.70 801.70,616.00 799.40,618.30" fill="none" stroke="#111" stroke-width="1.0"/>
<polygon points="809.30,616.00 811.60,613.70 813.90,616.00 811.60,618.30" fill="none" stroke="#111" stroke-width="1.0"/>
<line x1="845.50" y1="431.00" x2="845.50" y2="513.60" stroke="#222" stroke-width="1.1"/>
<line x1="831.00" y1="472.50" x2="860.40" y2="472.50" stroke="#222" stroke-width="1.1"/>
<circle cx="844.80" cy="451.40" r="2.2" fill="none" stroke="#111" stroke-width="1.05"/>
<circle cx="851.00" cy="446.40" r="2.6" fill="#000"/>
<circle cx="844.80" cy="520.40" r="2.2" fill="none" stroke="#111" stroke-width="1.05"/>
<text transform="translate(798.00,449.60) scale(0.78,1)" font-size="10.6" text-anchor="start" fill="#111" stroke="#111" stroke-width="0.22">PC-100</text>
<text transform="translate(819.40,475.80) scale(0.76,1)" font-size="10.6" text-anchor="start" fill="#111" stroke="#111" stroke-width="0.22" font-style="italic">85</text>
<text transform="translate(667.00,647.50) scale(0.78,1)" font-size="14.2" text-anchor="middle" fill="#111" stroke="#111" stroke-width="0.32">4</text>
<text transform="translate(711.40,647.50) scale(0.78,1)" font-size="14.2" text-anchor="middle" fill="#111" stroke="#111" stroke-width="0.32">4</text>
<text transform="translate(755.80,647.50) scale(0.78,1)" font-size="14.2" text-anchor="middle" fill="#111" stroke="#111" stroke-width="0.32">4</text>
<text transform="translate(800.00,647.50) scale(0.78,1)" font-size="14.2" text-anchor="middle" fill="#111" stroke="#111" stroke-width="0.32">3</text>
<text transform="translate(843.60,647.50) scale(0.78,1)" font-size="14.2" text-anchor="middle" fill="#111" stroke="#111" stroke-width="0.32">3</text>
<text transform="translate(667.60,669.80) scale(0.78,1)" font-size="14.2" text-anchor="middle" fill="#111" stroke="#111" stroke-width="0.32">S</text>
<text transform="translate(710.80,669.80) scale(0.78,1)" font-size="14.2" text-anchor="middle" fill="#111" stroke="#111" stroke-width="0.32">RS</text>
<text transform="translate(755.00,669.80) scale(0.78,1)" font-size="14.2" text-anchor="middle" fill="#111" stroke="#111" stroke-width="0.32">R</text>
<line x1="665.00" y1="677.60" x2="759.00" y2="677.60" stroke="#000" stroke-width="1.7"/>
<text x="668.00" y="691.40" font-size="13.5" font-family="'DejaVu Sans', sans-serif" text-anchor="middle" fill="#555">♀</text>
<text transform="translate(678.00,691.70) scale(0.78,1)" font-size="14.2" text-anchor="start" fill="#111" stroke="#111" stroke-width="0.32">23.C.7-D x</text>
<text transform="translate(745.00,691.66) rotate(-45)" font-size="12.8" font-family="'DejaVu Sans', sans-serif" text-anchor="middle" fill="#333">♂</text>
<text transform="translate(749.40,691.70) scale(0.78,1)" font-size="14.2" text-anchor="start" fill="#111" stroke="#111" stroke-width="0.32">WT</text>
<text transform="translate(802.60,691.70) scale(0.78,1)" font-size="14.2" text-anchor="middle" fill="#111" stroke="#111" stroke-width="0.32">NC</text>
<text transform="translate(841.40,691.70) scale(0.78,1)" font-size="14.2" text-anchor="middle" fill="#111" stroke="#111" stroke-width="0.32">PC</text>
</svg>
</body>
</html>
